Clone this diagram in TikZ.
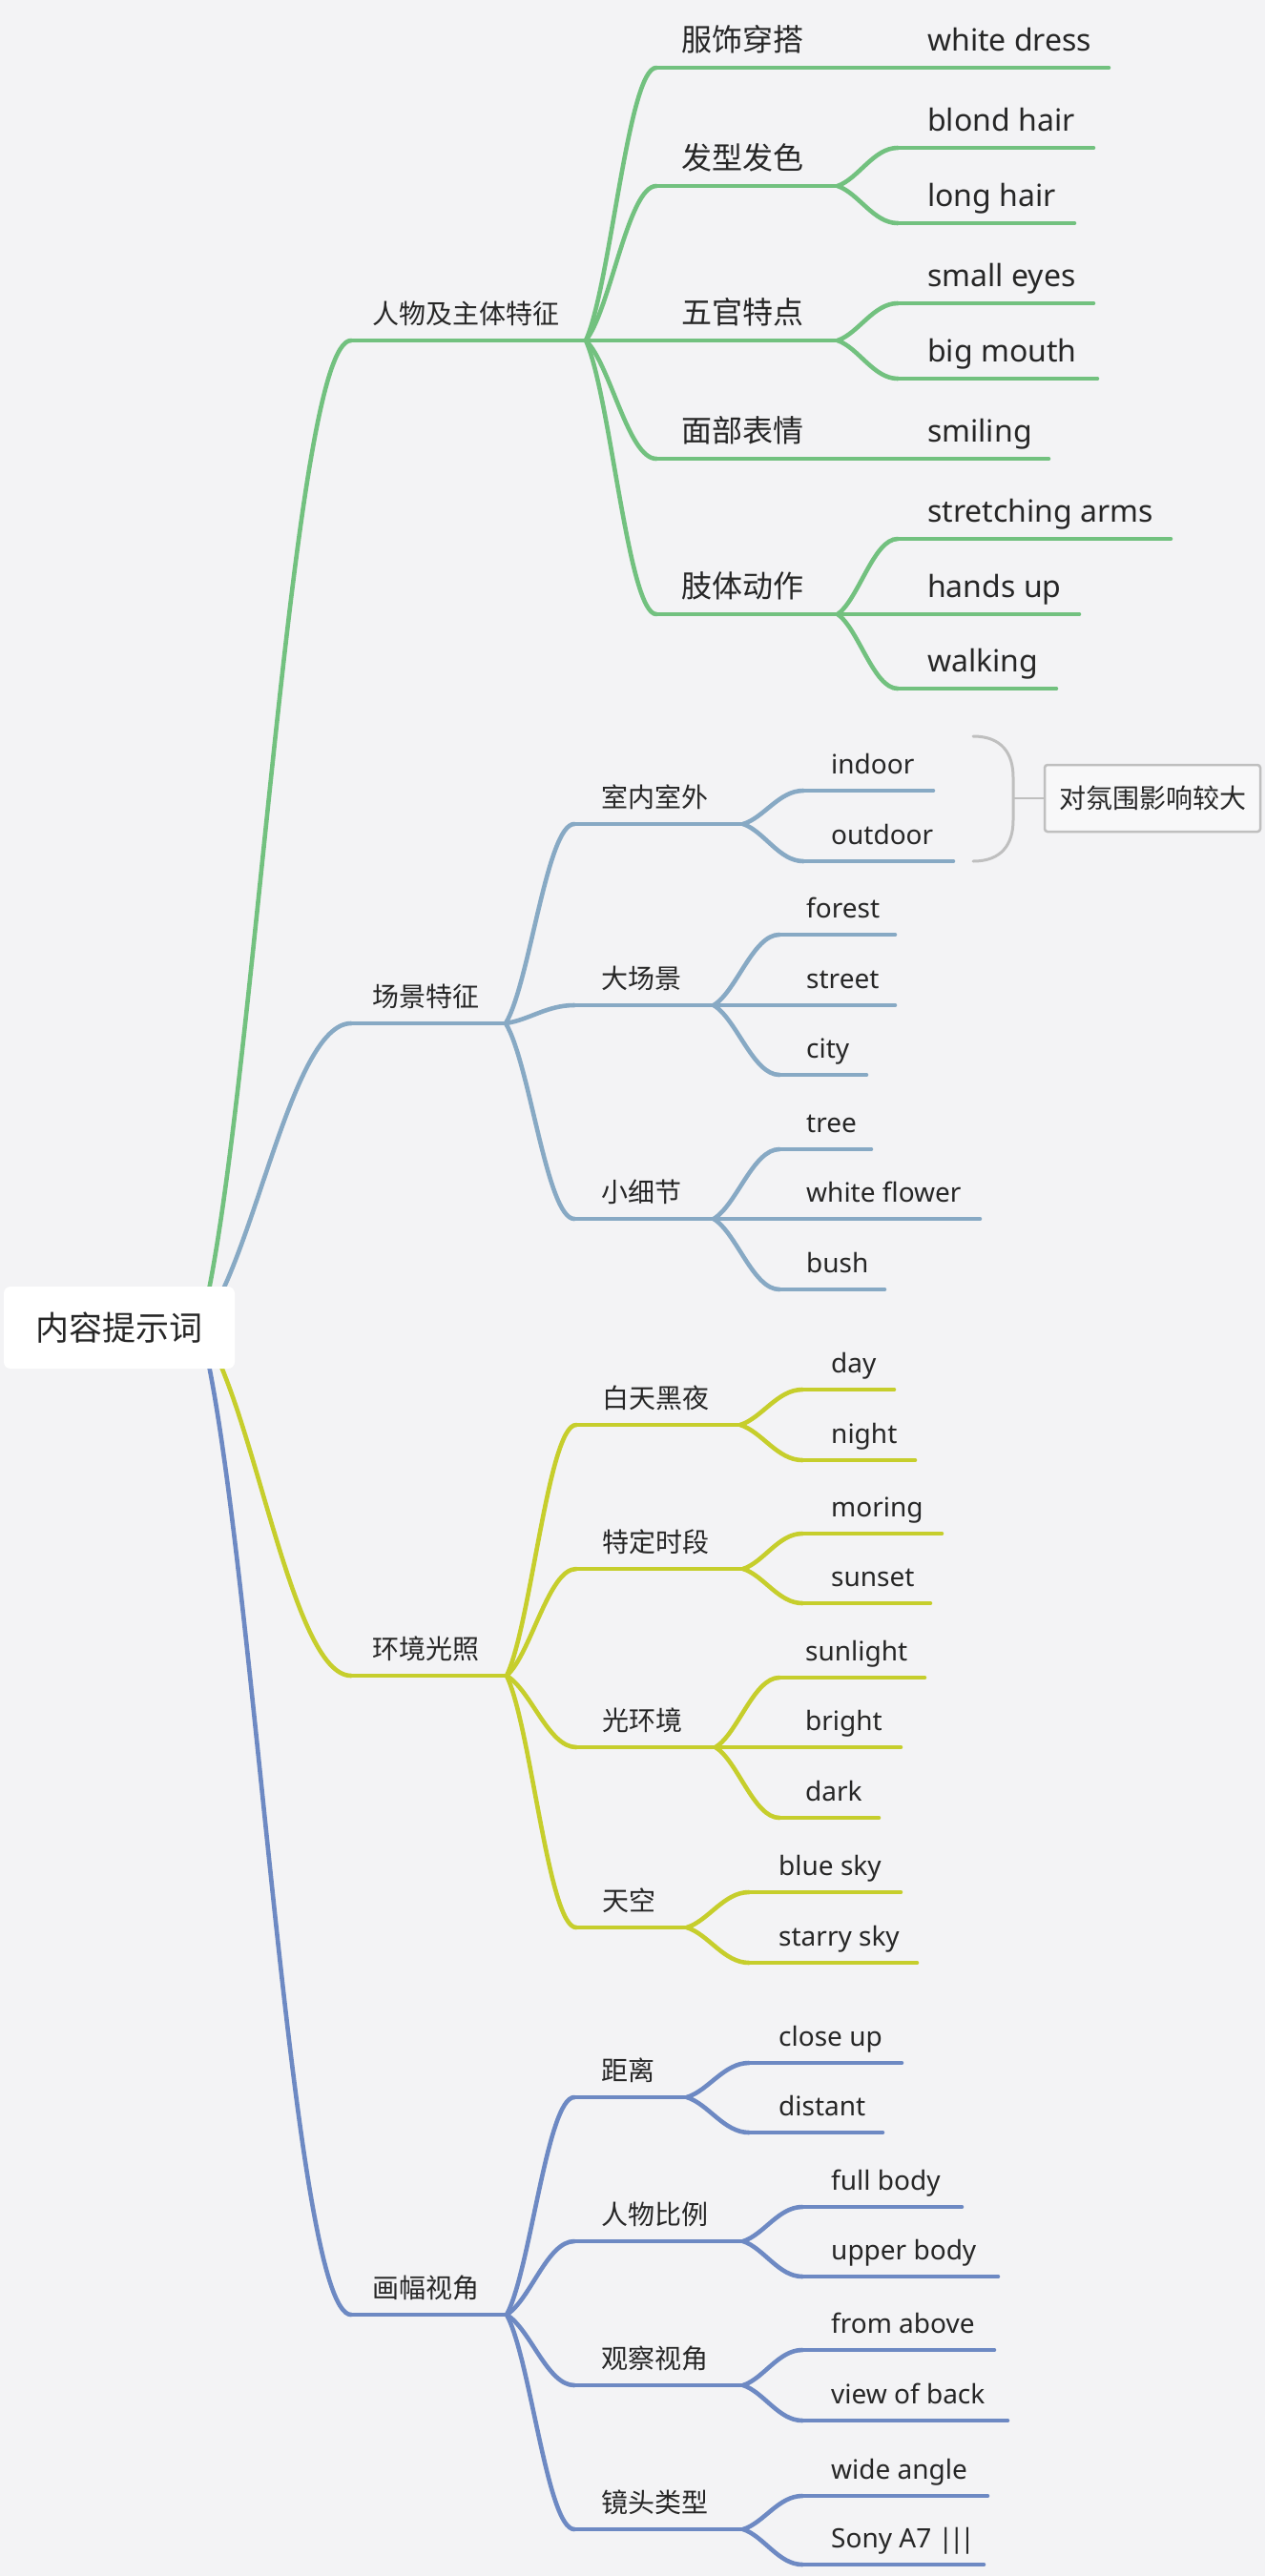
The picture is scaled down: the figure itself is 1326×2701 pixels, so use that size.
\documentclass[tikz,border=0pt]{standalone}
\usepackage{fontspec}
\setmainfont{Noto Sans}
\newfontfamily\cjk{Noto Sans CJK SC}
\usetikzlibrary{calc}
\pgfdeclarelayer{bg}
\pgfsetlayers{bg,main}
\definecolor{cg}{HTML}{72C17F}
\definecolor{cb}{HTML}{87A9C4}
\definecolor{cy}{HTML}{C6CE2C}
\definecolor{cd}{HTML}{6D89C3}
\definecolor{bgc}{HTML}{F3F3F5}
\definecolor{txt}{HTML}{262626}
\definecolor{graybr}{HTML}{BFBFBF}
\tikzset{
  lnk/.style={line width=4.6pt, line cap=round},
  tx/.style={inner sep=0pt, text=txt, anchor=base west},
  fone/.style={font=\cjk\fontsize{28}{34}\selectfont},
  fgtwo/.style={font=\cjk\fontsize{32}{38}\selectfont},
  ftwo/.style={font=\cjk\fontsize{28}{34}\selectfont},
  fgleaf/.style={font=\fontsize{32}{38}\selectfont},
  fleaf/.style={font=\fontsize{28}{34}\selectfont},
}
\newcommand{\mmitem}[8]{%
  \coordinate (#1-s) at (#5,#4);
  \coordinate (#1-h) at (#7,#4);
  \node[tx,#3] (#1) at (#6,#4-18) {#8};
  \begin{pgfonlayer}{bg}\draw[lnk,#2] (#1-s) -- (#1-h);\end{pgfonlayer}}
\newcommand{\mmconn}[3]{%
  \begin{pgfonlayer}{bg}\draw[lnk,#1] let \p1=(#2), \p2=(#3) in (\p1) .. controls ({\x1+0.35*(\x2-\x1)},{\y1+0.2*(\y2-\y1)}) and ({\x1+0.6*(\x2-\x1)},{\y2}) .. (\p2);\end{pgfonlayer}}
\begin{document}
\begin{tikzpicture}[x=1pt,y=-1pt]
\begin{pgfonlayer}{bg}
\fill[bgc] (0,0) rectangle (1326,2701);
\end{pgfonlayer}
\useasboundingbox (0,0) rectangle (1326,2701);
% root
\node[fill=white, rounded corners=7pt, minimum width=242pt, minimum height=86pt, inner sep=0pt,
      text=txt, font=\cjk\fontsize{35}{40}\selectfont] (root) at (125,1392) {内容提示词};
\coordinate (r0) at ([xshift=85pt]root.center);
% ---------- green ----------
\mmitem{g}{cg}{fone}{357}{368}{390}{614}{人物及主体特征}
\mmitem{g1}{cg}{fgtwo}{71}{688}{714}{878}{服饰穿搭}
\mmitem{g2}{cg}{fgtwo}{195}{688}{714}{878}{发型发色}
\mmitem{g3}{cg}{fgtwo}{357}{688}{714}{878}{五官特点}
\mmitem{g4}{cg}{fgtwo}{481}{688}{714}{878}{面部表情}
\mmitem{g5}{cg}{fgtwo}{644}{688}{714}{878}{肢体动作}
\mmitem{g1a}{cg}{fgleaf}{71}{941}{972}{1162}{white dress}
\mmitem{g2a}{cg}{fgleaf}{155}{941}{972}{1146}{blond hair}
\mmitem{g2b}{cg}{fgleaf}{234}{941}{972}{1126}{long hair}
\mmitem{g3a}{cg}{fgleaf}{318}{941}{972}{1146}{small eyes}
\mmitem{g3b}{cg}{fgleaf}{397}{941}{972}{1150}{big mouth}
\mmitem{g4a}{cg}{fgleaf}{481}{941}{972}{1099}{smiling}
\mmitem{g5a}{cg}{fgleaf}{565}{941}{972}{1227}{stretching arms}
\mmitem{g5b}{cg}{fgleaf}{644}{941}{972}{1131}{hands up}
\mmitem{g5c}{cg}{fgleaf}{722}{941}{972}{1107}{walking}
\mmconn{cg}{r0}{g-s}
\foreach \k in {g1,g2,g3,g4,g5}{\mmconn{cg}{g-h}{\k-s}}
\mmconn{cg}{g1-h}{g1a-s}
\mmconn{cg}{g2-h}{g2a-s}\mmconn{cg}{g2-h}{g2b-s}
\mmconn{cg}{g3-h}{g3a-s}\mmconn{cg}{g3-h}{g3b-s}
\mmconn{cg}{g4-h}{g4a-s}
\mmconn{cg}{g5-h}{g5a-s}\mmconn{cg}{g5-h}{g5b-s}\mmconn{cg}{g5-h}{g5c-s}
% ---------- blue ----------
\mmitem{b}{cb}{fone}{1073}{368}{390}{530}{场景特征}
\mmitem{b1}{cb}{ftwo}{864}{602}{630}{779}{室内室外}
\mmitem{b2}{cb}{ftwo}{1054}{602}{630}{748}{大场景}
\mmitem{b3}{cb}{ftwo}{1278}{602}{630}{748}{小细节}
\mmitem{b1a}{cb}{fleaf}{829}{842}{871}{978}{indoor}
\mmitem{b1b}{cb}{fleaf}{903}{842}{871}{999}{outdoor}
\mmitem{b2a}{cb}{fleaf}{980}{817}{845}{938}{forest}
\mmitem{b2b}{cb}{fleaf}{1054}{817}{845}{938}{street}
\mmitem{b2c}{cb}{fleaf}{1127}{817}{845}{908}{city}
\mmitem{b3a}{cb}{fleaf}{1205}{817}{845}{913}{tree}
\mmitem{b3b}{cb}{fleaf}{1278}{817}{845}{1027}{white flower}
\mmitem{b3c}{cb}{fleaf}{1352}{817}{845}{927}{bush}
\mmconn{cb}{r0}{b-s}
\foreach \k in {b1,b2,b3}{\mmconn{cb}{b-h}{\k-s}}
\mmconn{cb}{b1-h}{b1a-s}\mmconn{cb}{b1-h}{b1b-s}
\mmconn{cb}{b2-h}{b2a-s}\mmconn{cb}{b2-h}{b2b-s}\mmconn{cb}{b2-h}{b2c-s}
\mmconn{cb}{b3-h}{b3a-s}\mmconn{cb}{b3-h}{b3b-s}\mmconn{cb}{b3-h}{b3c-s}
% brace and note
\coordinate (brt) at (1020,772);
\coordinate (brb) at (1020,903);
\coordinate (brc) at (1062,837);
\draw[graybr, line width=3pt, line cap=round] (brt) .. controls (1050,772) and (1062,790) .. (1062,815) -- (brc) -- (1062,860) .. controls (1062,885) and (1050,903) .. (brb);
\node[draw=graybr, line width=2.5pt, rounded corners=3pt, fill=bgc!60!white, minimum width=226pt, minimum height=70pt, inner sep=0pt,
      text=txt, font=\cjk\fontsize{28}{34}\selectfont] (note) at (1208,837) {对氛围影响较大};
\draw[graybr, line width=2.5pt] (brc) -- (note.west);
% ---------- yellow ----------
\mmitem{y}{cy}{fone}{1757}{368}{390}{531}{环境光照}
\mmitem{y1}{cy}{ftwo}{1494}{604}{631}{776}{白天黑夜}
\mmitem{y2}{cy}{ftwo}{1645}{604}{631}{779}{特定时段}
\mmitem{y3}{cy}{ftwo}{1832}{604}{631}{750}{光环境}
\mmitem{y4}{cy}{ftwo}{2021}{604}{631}{720}{天空}
\mmitem{y1a}{cy}{fleaf}{1457}{841}{871}{937}{day}
\mmitem{y1b}{cy}{fleaf}{1531}{841}{871}{959}{night}
\mmitem{y2a}{cy}{fleaf}{1608}{841}{871}{987}{moring}
\mmitem{y2b}{cy}{fleaf}{1681}{841}{871}{975}{sunset}
\mmitem{y3a}{cy}{fleaf}{1759}{817}{844}{969}{sunlight}
\mmitem{y3b}{cy}{fleaf}{1832}{817}{844}{944}{bright}
\mmitem{y3c}{cy}{fleaf}{1906}{817}{844}{921}{dark}
\mmitem{y4a}{cy}{fleaf}{1984}{785}{816}{944}{blue sky}
\mmitem{y4b}{cy}{fleaf}{2058}{785}{816}{961}{starry sky}
\mmconn{cy}{r0}{y-s}
\foreach \k in {y1,y2,y3,y4}{\mmconn{cy}{y-h}{\k-s}}
\mmconn{cy}{y1-h}{y1a-s}\mmconn{cy}{y1-h}{y1b-s}
\mmconn{cy}{y2-h}{y2a-s}\mmconn{cy}{y2-h}{y2b-s}
\mmconn{cy}{y3-h}{y3a-s}\mmconn{cy}{y3-h}{y3b-s}\mmconn{cy}{y3-h}{y3c-s}
\mmconn{cy}{y4-h}{y4a-s}\mmconn{cy}{y4-h}{y4b-s}
% ---------- dark blue ----------
\mmitem{d}{cd}{fone}{2427}{368}{390}{531}{画幅视角}
\mmitem{d1}{cd}{ftwo}{2199}{602}{630}{720}{距离}
\mmitem{d2}{cd}{ftwo}{2350}{602}{630}{779}{人物比例}
\mmitem{d3}{cd}{ftwo}{2501}{602}{630}{779}{观察视角}
\mmitem{d4}{cd}{ftwo}{2652}{602}{630}{779}{镜头类型}
\mmitem{d1a}{cd}{fleaf}{2163}{785}{816}{945}{close up}
\mmitem{d1b}{cd}{fleaf}{2236}{785}{816}{925}{distant}
\mmitem{d2a}{cd}{fleaf}{2314}{841}{871}{1008}{full body}
\mmitem{d2b}{cd}{fleaf}{2387}{841}{871}{1046}{upper body}
\mmitem{d3a}{cd}{fleaf}{2464}{841}{871}{1042}{from above}
\mmitem{d3b}{cd}{fleaf}{2538}{841}{871}{1056}{view of back}
\mmitem{d4a}{cd}{fleaf}{2617}{841}{871}{1035}{wide angle}
\mmitem{d4b}{cd}{fleaf}{2689}{841}{871}{1031}{Sony A7 |\kern-4pt|\kern-4pt|}
\mmconn{cd}{r0}{d-s}
\foreach \k in {d1,d2,d3,d4}{\mmconn{cd}{d-h}{\k-s}}
\mmconn{cd}{d1-h}{d1a-s}\mmconn{cd}{d1-h}{d1b-s}
\mmconn{cd}{d2-h}{d2a-s}\mmconn{cd}{d2-h}{d2b-s}
\mmconn{cd}{d3-h}{d3a-s}\mmconn{cd}{d3-h}{d3b-s}
\mmconn{cd}{d4-h}{d4a-s}\mmconn{cd}{d4-h}{d4b-s}
\end{tikzpicture}
\end{document}
